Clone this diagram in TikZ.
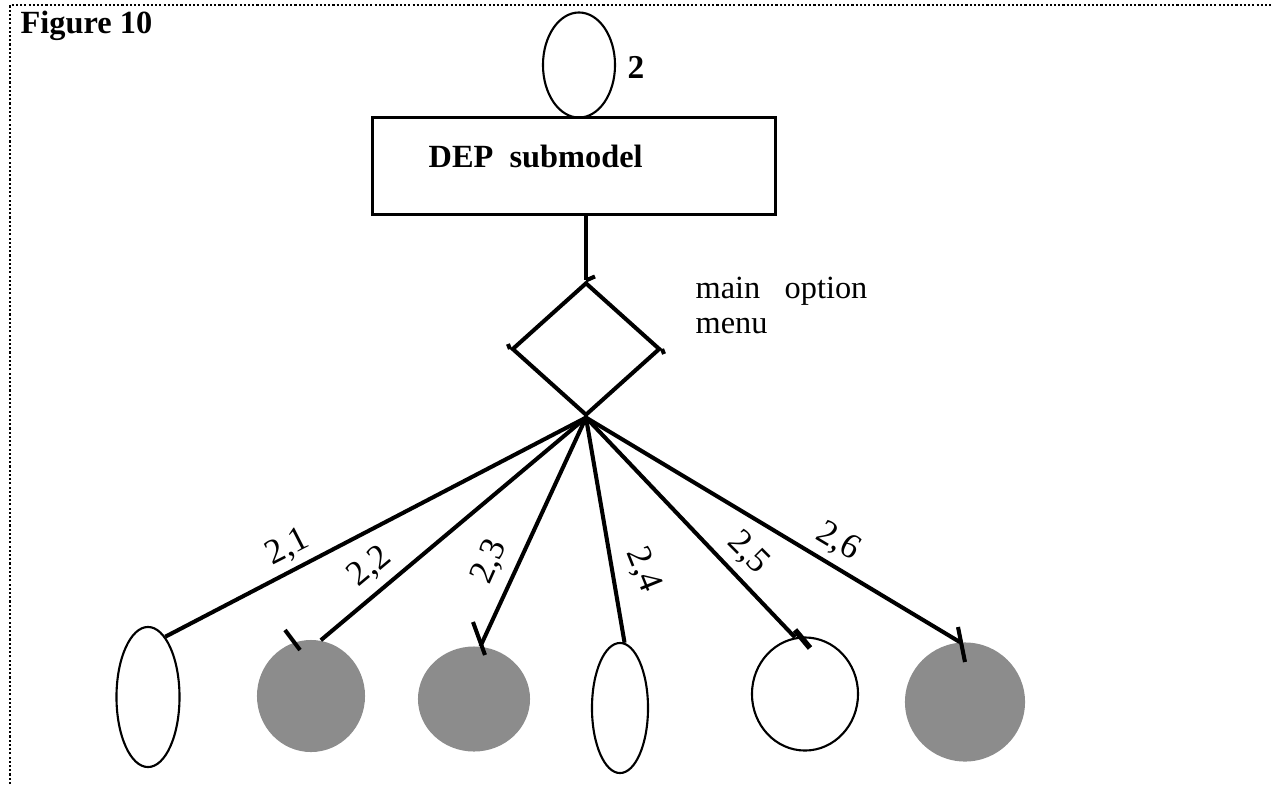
\documentclass[tikz,border=0pt]{standalone}
\usepackage{fontspec}
\setmainfont{Liberation Serif}
\usetikzlibrary{shapes.geometric}

\begin{document}
\begin{tikzpicture}[x=0.01cm, y=-0.01cm,
    open/.style={ellipse, draw, line width=0.6pt, inner sep=0pt},
    shaded/.style={ellipse, fill=black!45, inner sep=0pt},
    link/.style={line width=1.15pt},
    lbl/.style={font=\fontsize{10}{12}\selectfont, inner sep=0pt}]
    \useasboundingbox (0,0) rectangle (1272,784);

    % Dotted frame (top and left only)
    \draw[line width=0.8pt, dash pattern=on 0.6pt off 0.6pt] (10,784) -- (10,5) -- (1272,5);
    \node[anchor=base west, font=\fontsize{9.2}{11}\selectfont\bfseries, inner sep=0pt] (title) at (20,33) {Figure 10};

    % Submodel and its start state
    \node[draw, line width=0.85pt, minimum width=4.02cm, minimum height=0.97cm, inner sep=0pt] (box) at (574,166) {};
    \node[anchor=base west, font=\fontsize{9.2}{11}\selectfont\bfseries, inner sep=0pt] (boxtext) at (428,167) {DEP\ \ submodel};
    \node[open, minimum width=0.72cm, minimum height=1.05cm] (start) at (579,65) {};
    \node[lbl, font=\fontsize{9.5}{11}\selectfont\bfseries] (startnum) at (636,67) {2};

    % Option menu
    \node[diamond, draw, line width=1.15pt, minimum width=1.48cm, minimum height=1.33cm, inner sep=0pt] (menu) at (586,349) {};
    \node[anchor=base west, align=left, inner sep=0pt, font=\fontsize{9.2}{9.9}\selectfont] (menutext) at (695,333) {main\ \ \ option\\menu};
    \draw[link] (box.south -| menu.north) -- (menu.north);
    \draw[link] (menu.north) -- ++(9,-4);
    \draw[link] (menu.west) -- ++(-2,-5);
    \draw[link] (menu.east) -- ++(2,5);

    % Sub-options
    \node[open, minimum width=0.63cm, minimum height=1.40cm] (c1) at (148,697) {};
    \node[shaded, minimum width=1.08cm, minimum height=1.12cm] (c2) at (311,696) {};
    \node[shaded, minimum width=1.12cm, minimum height=1.05cm] (c3) at (474,699) {};
    \node[open, minimum width=0.56cm, minimum height=1.30cm] (c4) at (620,708) {};
    \node[open, minimum width=1.06cm, minimum height=1.13cm] (c5) at (805,694) {};
    \node[shaded, minimum width=1.20cm, minimum height=1.19cm] (c6) at (965,702) {};

    % Links from the menu
    \draw[link] (menu.south) -- (c1.74);
    \draw[link] (menu.south) -- (c2.80);
    \draw[link] (menu.south) -- (c3.83);
    \draw[link] (menu.south) -- (c4.86);
    \draw[link] (menu.south) -- (c5.100);
    \draw[link] (menu.south) -- (c6.95);

    % Small ticks at the link ends
    \draw[link] (285,630) -- (300,650);
    \draw[link] (473,622) -- (485,655);
    \draw[link, line width=1.6pt] (795,630) -- (810,648);
    \draw[link] (958,627) -- (965,662);

    % Link labels
    \node[lbl, rotate=27] (l1) at (288,548) {2,1};
    \node[lbl, rotate=40] (l2) at (370,567) {2,2};
    \node[lbl, rotate=66] (l3) at (490,562) {2,3};
    \node[lbl, rotate=-68] (l4) at (643,570) {2,4};
    \node[lbl, rotate=-45] (l5) at (748,553) {2,5};
    \node[lbl, rotate=-31] (l6) at (838,542) {2,6};
\end{tikzpicture}
\end{document}
